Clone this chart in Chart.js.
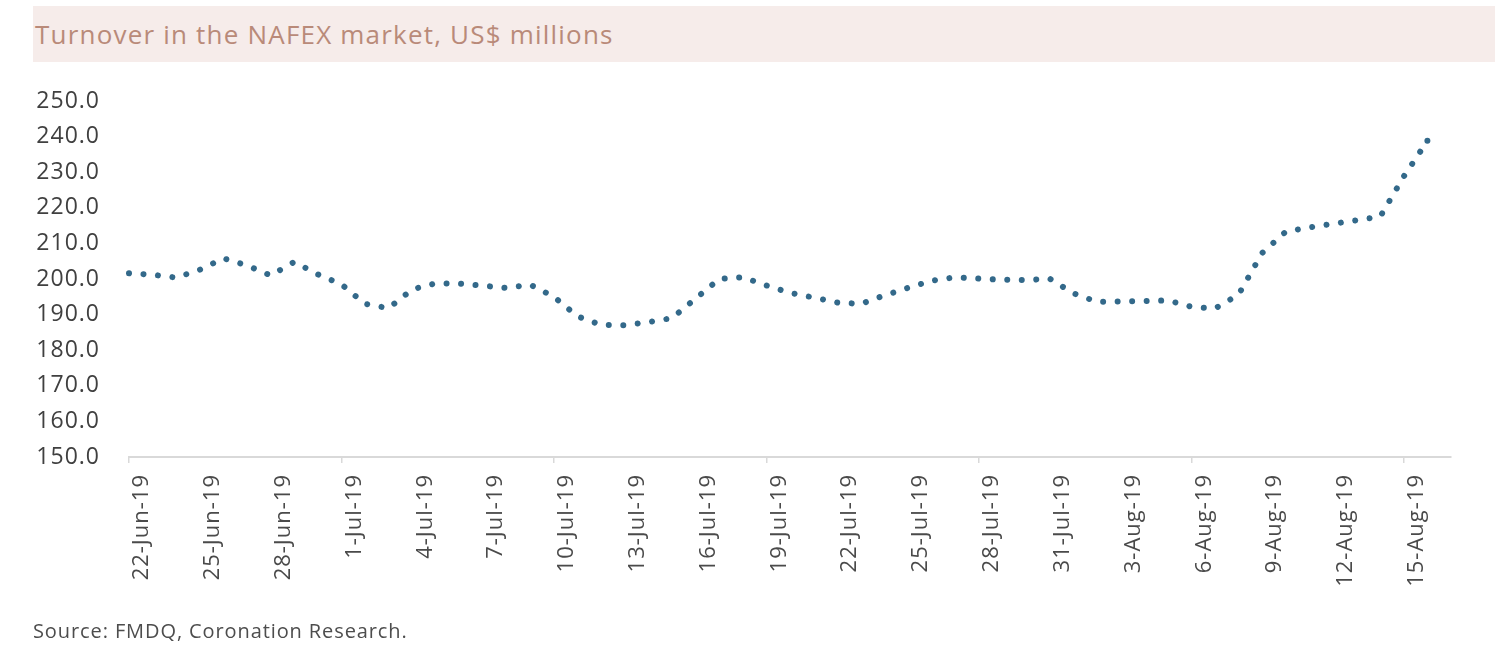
<!DOCTYPE html>
<html>
<head>
<meta charset="utf-8">
<script src="https://cdn.jsdelivr.net/npm/chart.js@4.4.1/dist/chart.umd.min.js"></script>
<style>
  html, body { margin: 0; padding: 0; background: #fff; }
  body { width: 1500px; height: 662px; position: relative; overflow: hidden; font-family: "Open Sans", sans-serif; }
  #title-band {
    position: absolute; left: 33px; top: 6px; width: 1462px; height: 56px;
    background: #f6eceA;
  }
  #title {
    position: absolute; left: 35px; top: 16px;
    font-size: 26px; letter-spacing: 1.2px; color: #b98a79; white-space: nowrap;
  }
  #source {
    position: absolute; left: 33px; top: 617px;
    font-size: 20px; letter-spacing: 0.9px; color: #4d4d4d; white-space: nowrap;
  }
  #chart-box { position: absolute; left: 0; top: 0; width: 1500px; height: 662px; }
</style>
</head>
<body>
<div id="title-band"></div>
<div id="title">Turnover in the NAFEX market, US$ millions</div>
<div id="chart-box"><canvas id="nafexChart" width="1500" height="662"></canvas></div>
<div id="source">Source: FMDQ, Coronation Research.</div>
<script>
const dates = [
    '22-Jun-19', '23-Jun-19', '24-Jun-19', '25-Jun-19', '26-Jun-19', '27-Jun-19', '28-Jun-19', '29-Jun-19', '30-Jun-19',
    '1-Jul-19', '2-Jul-19', '3-Jul-19', '4-Jul-19', '5-Jul-19', '6-Jul-19', '7-Jul-19', '8-Jul-19', '9-Jul-19',
    '10-Jul-19', '11-Jul-19', '12-Jul-19', '13-Jul-19', '14-Jul-19', '15-Jul-19', '16-Jul-19', '17-Jul-19', '18-Jul-19',
    '19-Jul-19', '20-Jul-19', '21-Jul-19', '22-Jul-19', '23-Jul-19', '24-Jul-19', '25-Jul-19', '26-Jul-19', '27-Jul-19',
    '28-Jul-19', '29-Jul-19', '30-Jul-19', '31-Jul-19', '1-Aug-19', '2-Aug-19', '3-Aug-19', '4-Aug-19', '5-Aug-19',
    '6-Aug-19', '7-Aug-19', '8-Aug-19', '9-Aug-19', '10-Aug-19', '11-Aug-19', '12-Aug-19', '13-Aug-19', '14-Aug-19',
    '15-Aug-19', '16-Aug-19', '17-Aug-19'
];

const turnover = [
    201.6, 201.2, 200.4, 202.6, 205.8, 203.8, 201.0, 204.8, 201.3,
    198.5, 193.0, 191.8, 197.1, 198.8, 198.7, 198.1, 197.5, 198.4,
    195.0, 189.5, 187.1, 187.0, 187.9, 189.0, 194.5, 200.0, 200.5,
    198.2, 196.1, 194.8, 193.4, 193.0, 195.4, 197.5, 199.5, 200.5,
    200.1, 199.8, 199.7, 200.1, 196.0, 193.6, 193.7, 193.8, 194.0,
    192.2, 191.7, 195.6, 207.3, 213.3, 214.5, 215.5, 216.5, 217.5,
    228.8, 238.8, null
];

const yMin = 150;
const yMax = 250;
const yStep = 10;
const labelEvery = 3;
const lastIndex = 55;

// wider letter spacing to match the reference's loose tick text
const spacingPlugin = {
    id: 'spacing',
    beforeLayout(chart) { chart.ctx.letterSpacing = '1px'; },
    beforeDraw(chart) { chart.ctx.letterSpacing = '1px'; }
};

const ctx = document.getElementById('nafexChart').getContext('2d');

new Chart(ctx, {
    type: 'line',
    data: {
        labels: dates,
        datasets: [{
            label: 'Turnover',
            data: turnover,
            borderColor: '#33698a',
            backgroundColor: '#33698a',
            borderWidth: 6,
            borderDash: [0.01, 14.5],
            borderCapStyle: 'round',
            pointRadius: (c) => (c.dataIndex === lastIndex ? 3 : 0),
            pointBorderWidth: 0,
            tension: 0,
            fill: false
        }]
    },
    options: {
        responsive: false,
        animation: false,
        layout: {
            padding: { top: 101, right: 49, bottom: 0, left: 0 }
        },
        plugins: {
            legend: { display: false },
            tooltip: { enabled: false }
        },
        scales: {
            x: {
                offset: false,
                afterFit: (scale) => { scale.height = 205; },
                border: { display: true, color: '#d9d9d9', width: 2 },
                grid: {
                    drawOnChartArea: false,
                    drawTicks: true,
                    tickLength: 6,
                    color: (c) => (c.index % labelEvery === 0 ? '#d9d9d9' : 'rgba(0,0,0,0)'),
                    lineWidth: 1.5
                },
                ticks: {
                    autoSkip: false,
                    minRotation: 90,
                    maxRotation: 90,
                    labelOffset: 13,
                    padding: 11,
                    color: '#4a4a4a',
                    font: { family: 'Open Sans', size: 22 },
                    callback: function(value, index) {
                        return index % labelEvery === 0 ? this.getLabelForValue(value) : null;
                    }
                }
            },
            y: {
                min: yMin,
                max: yMax,
                afterFit: (scale) => { scale.width = 129; },
                border: { display: false },
                grid: { display: false, drawTicks: false },
                ticks: {
                    stepSize: yStep,
                    padding: 29,
                    color: '#404040',
                    font: { family: 'Open Sans', size: 23 },
                    callback: (v) => Number(v).toFixed(1)
                }
            }
        }
    },
    plugins: [spacingPlugin]
});
</script>
</body>
</html>
